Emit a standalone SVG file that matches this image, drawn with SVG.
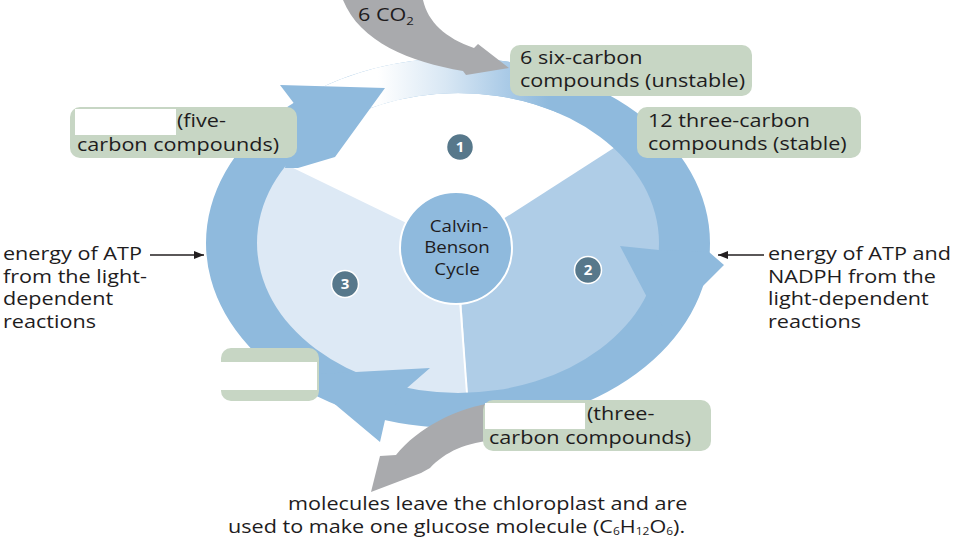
<svg xmlns="http://www.w3.org/2000/svg" width="960" height="540" viewBox="0 0 960 540">
<defs>
<style>
.t{font-family:"Open Sans","Liberation Sans",sans-serif;font-size:18px;fill:#1e1c1d}
.tc{font-family:"Open Sans","Liberation Sans",sans-serif;font-size:17px;fill:#1e1c1d;text-anchor:middle}
.box{fill:#c7d6c4}
.blank{fill:#ffffff}
.ring{fill:#8fbadd}
.num{fill:#57788b;stroke:#ffffff;stroke-width:1.5}
.numt{font-family:"Open Sans","Liberation Sans",sans-serif;font-size:15px;font-weight:bold;fill:#ffffff;text-anchor:middle}
.gray{fill:#a9aaad}
.line{stroke:#231f20;stroke-width:1.3;fill:none}
</style>
<linearGradient id="fade" gradientUnits="userSpaceOnUse" x1="378" y1="0" x2="548" y2="0">
<stop offset="0" stop-color="#ffffff"/>
<stop offset="0.4" stop-color="#d8e7f4"/>
<stop offset="0.75" stop-color="#abcbe7"/>
<stop offset="1" stop-color="#8fbadd"/>
</linearGradient>
<clipPath id="disc"><ellipse cx="458" cy="243" rx="206" ry="154"/></clipPath>
<marker id="ah" viewBox="0 0 10 8" refX="10" refY="4" markerWidth="10" markerHeight="8" markerUnits="userSpaceOnUse" orient="auto"><path d="M0,0 L10,4 L0,8 Z" fill="#231f20"/></marker>
</defs>
<rect width="960" height="540" fill="#ffffff"/>

<g id="sectors" clip-path="url(#disc)">
<path d="M458,248 L180,113 L180,470 L472,470 Z" fill="#dde9f5"/>
<path d="M458,248 L472,470 L740,470 L740,67 Z" fill="#afcde7"/>
<line x1="460" y1="300" x2="469" y2="420" stroke="#ffffff" stroke-width="2"/>
</g>

<g id="cycle-ring">
<path class="ring" fill-rule="evenodd" d="M206,243 A252,185 0 1 1 710,243 A252,185 0 1 1 206,243 Z M257,243 A201,150 0 1 0 659,243 A201,150 0 1 0 257,243 Z"/>
<path fill="url(#fade)" d="M293.5,102.7 A252,185 0 0 1 584,82.8 L558.5,113.1 A201,150 0 0 0 318.5,135.4 Z"/>
<polygon class="ring" points="293.5,102.7 280,85 385,88 335,157 298,168 285,168"/>
<polygon class="ring" points="709,252 724,265 662.4,326.6 620,246 659,250"/>
<polygon class="ring" points="385,420 380,442 300,375 430,368 407,388"/>
</g>

<g id="center">
<circle cx="456" cy="248" r="56" fill="#8fbadd" stroke="#ffffff" stroke-width="2"/>
<text class="tc" transform="translate(459,232) scale(1.1,1)">Calvin-</text>
<text class="tc" transform="translate(457,253) scale(1.1,1)">Benson</text>
<text class="tc" transform="translate(457,275) scale(1.1,1)">Cycle</text>
</g>

<g id="step1"><circle class="num" cx="460" cy="147" r="13.5"/><text class="numt" x="460" y="152">1</text></g>
<g id="step2"><circle class="num" cx="588" cy="270" r="13.5"/><text class="numt" x="588" y="275">2</text></g>
<g id="step3"><circle class="num" cx="345" cy="284" r="13.5"/><text class="numt" x="345" y="289">3</text></g>

<g id="connectors">
<path class="gray" d="M343,0 C360,42 410,62 463,71 L466,75 L509,68 L478,44 L474,48 C445,38 428,22 423,0 Z"/>
<path class="gray" d="M497,402 C455,408 418,428 396,455 L380,456 L371,492 L421,473 L430,468 C445,452 466,442 497,440 Z"/>
<line class="line" x1="150" y1="255" x2="204" y2="255" marker-end="url(#ah)"/>
<line class="line" x1="764" y1="255" x2="718" y2="255" marker-end="url(#ah)"/>
</g>

<g id="co2">
<text class="t" transform="translate(358,21) scale(1.2,1)">6 CO<tspan font-size="11" dy="4">2</tspan></text>
</g>

<g id="six-carbon">
<rect class="box" x="510" y="45" width="242" height="51" rx="10"/>
<text class="t" transform="translate(520,64) scale(1.2,1)">6 six-carbon</text>
<text class="t" transform="translate(520,87) scale(1.2,1)">compounds (unstable)</text>
</g>

<g id="three-carbon-stable">
<rect class="box" x="637" y="107" width="224" height="51" rx="10"/>
<text class="t" transform="translate(648,127) scale(1.2,1)">12 three-carbon</text>
<text class="t" transform="translate(648,150) scale(1.2,1)">compounds (stable)</text>
</g>

<g id="five-carbon">
<rect class="box" x="70" y="107" width="227" height="51" rx="10"/>
<rect class="blank" x="75" y="109" width="101" height="26"/>
<text class="t" transform="translate(177,127) scale(1.2,1)">(five-</text>
<text class="t" transform="translate(77,151) scale(1.2,1)">carbon compounds)</text>
</g>

<g id="blank-box">
<rect class="box" x="221" y="348" width="98" height="53" rx="10"/>
<rect class="blank" x="218" y="362" width="99" height="28"/>
</g>

<g id="three-carbon">
<rect class="box" x="483" y="400" width="228" height="51" rx="10"/>
<rect class="blank" x="485" y="403" width="100" height="26"/>
<text class="t" transform="translate(587,420) scale(1.2,1)">(three-</text>
<text class="t" transform="translate(489,444) scale(1.2,1)">carbon compounds)</text>
</g>

<g id="atp-left">
<text class="t" transform="translate(3,260) scale(1.2,1)">energy of ATP</text>
<text class="t" transform="translate(3,283) scale(1.2,1)">from the light-</text>
<text class="t" transform="translate(3,305) scale(1.2,1)">dependent</text>
<text class="t" transform="translate(3,328) scale(1.2,1)">reactions</text>
</g>

<g id="atp-right">
<text class="t" transform="translate(768,260) scale(1.2,1)">energy of ATP and</text>
<text class="t" transform="translate(768,283) scale(1.2,1)">NADPH from the</text>
<text class="t" transform="translate(768,305) scale(1.2,1)">light-dependent</text>
<text class="t" transform="translate(768,328) scale(1.2,1)">reactions</text>
</g>

<g id="glucose">
<text class="t" transform="translate(288,510) scale(1.2,1)">molecules leave the chloroplast and are</text>
<text class="t" transform="translate(228,533) scale(1.2,1)">used to make one glucose molecule (C<tspan font-size="10" dy="2">6</tspan><tspan dy="-2">H</tspan><tspan font-size="10" dy="2">12</tspan><tspan dy="-2">O</tspan><tspan font-size="10" dy="2">6</tspan><tspan dy="-2">).</tspan></text>
</g>
</svg>
